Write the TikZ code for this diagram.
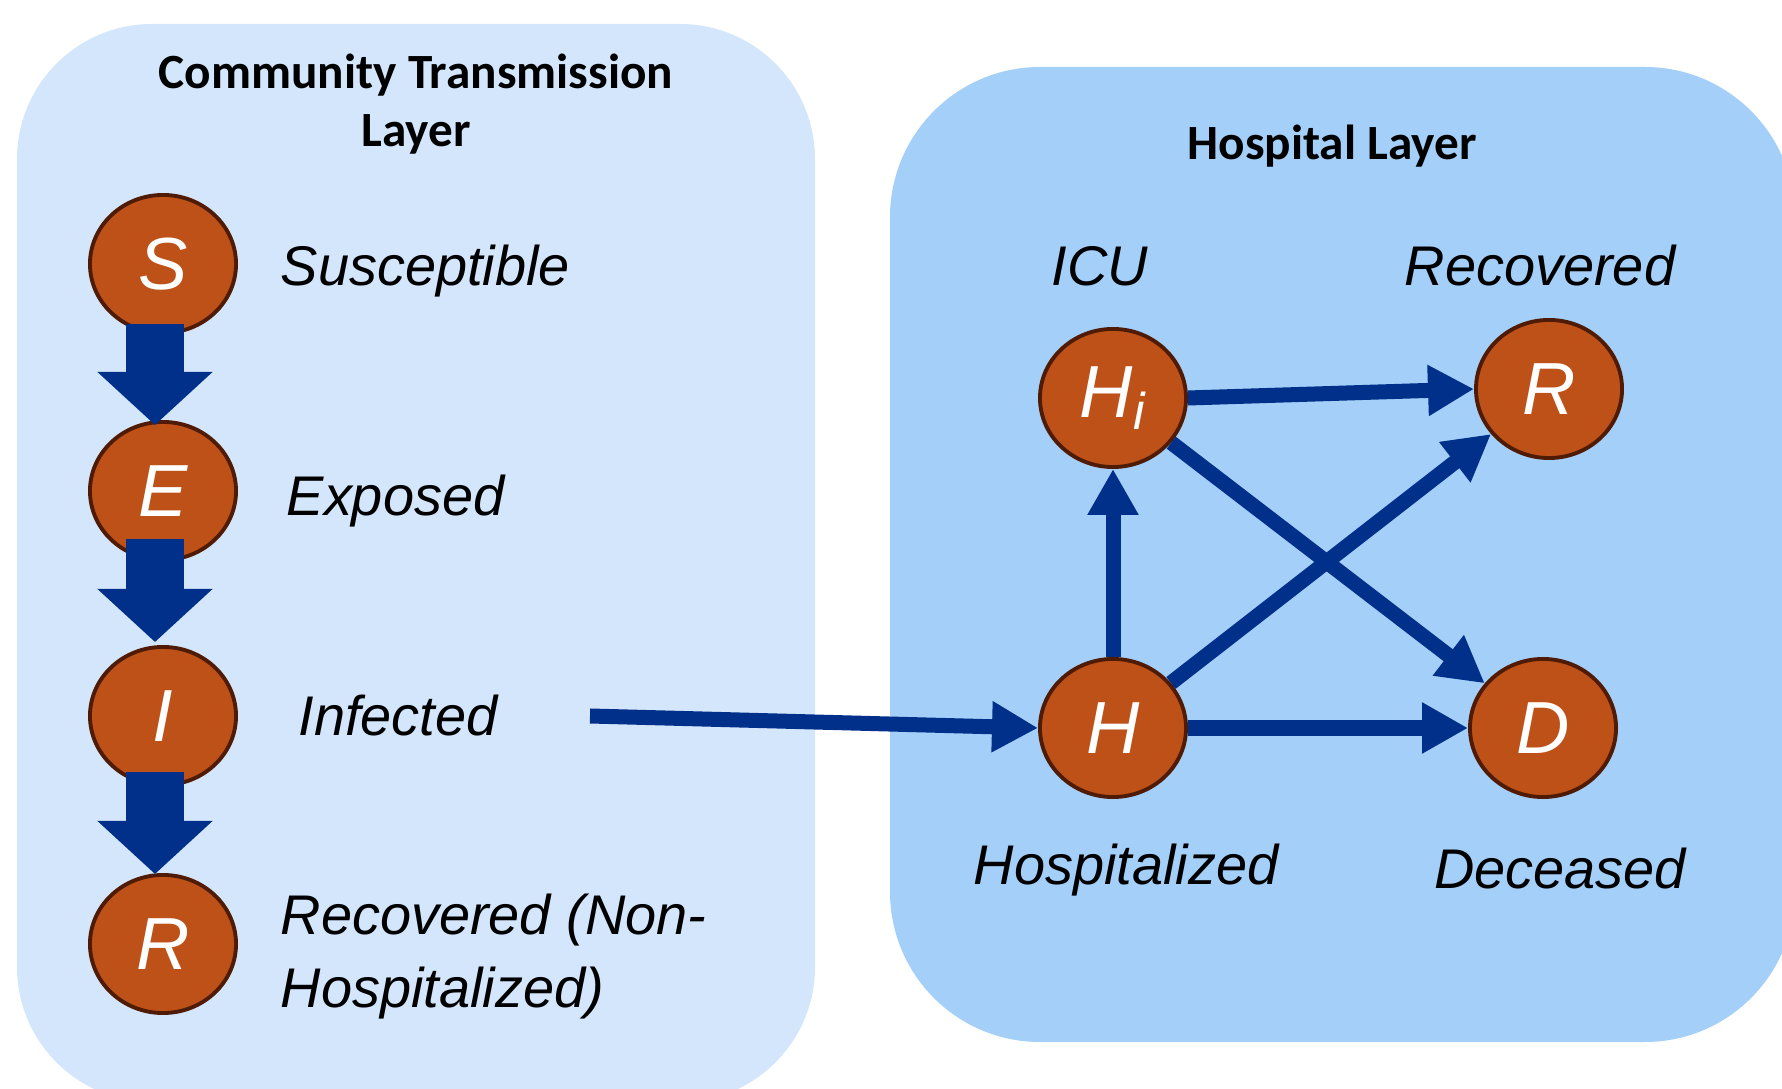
\documentclass[tikz,border=0pt]{standalone}
\usepackage{fontspec}
\setmainfont{Liberation Sans}
\newfontfamily\titlefont{Carlito}
\usetikzlibrary{shapes.geometric,arrows.meta}
\definecolor{commbg}{HTML}{D4E6FB}
\definecolor{hospbg}{HTML}{A3CFF8}
\definecolor{nodefill}{HTML}{BE5118}
\definecolor{nodeline}{HTML}{4F1B04}
\definecolor{arrowblue}{HTML}{00308A}
\begin{document}
\begin{tikzpicture}[x=0.01cm,y=-0.01cm,
  state/.style={ellipse, fill=nodefill, draw=nodeline, line width=1.1pt,
    minimum width=1.46cm, minimum height=1.38cm, inner sep=0pt, text=white,
    font=\fontsize{21}{25}\selectfont\itshape},
  lbl/.style={font=\fontsize{15.9}{19.3}\selectfont\itshape, inner sep=0pt},
  ttl/.style={font=\titlefont\bfseries\fontsize{14}{16.5}\selectfont, align=center, inner sep=0pt},
  bigarrow/.style={arrowblue, line width=0.57cm, -{Triangle[width=1.12cm,length=0.53cm]}},
  flow/.style={arrowblue, line width=0.15cm, -{Triangle[width=0.48cm,length=0.46cm]}}
]
\useasboundingbox (0,0) rectangle (1782,1089);
\begin{scope}
  \clip (0,0) rectangle (1782,1089);
  \fill[commbg, rounded corners=1.35cm] (17,24) rectangle (815,1102);
  \fill[hospbg, rounded corners=1.5cm] (890,67) rectangle (1795,1042);
\end{scope}

% titles
\node[ttl, anchor=base] (ttlc) at (416,147) {Community Transmission\\Layer};
\node[ttl, anchor=base] (ttlh) at (1332,160) {Hospital Layer};

% community nodes
\node[state] (S) at (163,264) {S};
\node[state] (E) at (163,491) {E};
\node[state] (I) at (163,716) {I};
\node[state] (R1) at (163,944) {R};

\node[lbl, anchor=base west] (lS) at (280,286) {Susceptible};
\node[lbl, anchor=base west] (lE) at (286,516) {Exposed};
\node[lbl, anchor=base west] (lI) at (298,736) {Infected};
\node[lbl, anchor=base west, align=left, font=\fontsize{15.9}{20.5}\selectfont\itshape] (lR1) at (280,1007) {Recovered (Non-\\Hospitalized)};

% hospital nodes
\node[state] (Hi) at (1113,398) {H\textsubscript{i}};
\node[state] (R2) at (1549,389) {R};
\node[state] (H) at (1113,728) {H};
\node[state] (D) at (1543,728) {D};

\node[lbl, anchor=base] (lHi) at (1100,286) {ICU};
\node[lbl, anchor=base] (lR2) at (1540,286) {Recovered};
\node[lbl, anchor=base] (lH) at (1126,885) {Hospitalized};
\node[lbl, anchor=base] (lD) at (1560,889) {Deceased};

% block arrows
\draw[bigarrow] ([shift={(-8,-11)}]S.south) -- ([shift={(-8,5)}]E.north);
\draw[bigarrow] ([shift={(-8,-23)}]E.south) -- ([shift={(-8,-3)}]I.north);
\draw[bigarrow] ([shift={(-8,-15)}]I.south) -- ([shift={(-8,1)}]R1.north);

% flows
\coordinate (istart) at (590,716);
\draw[flow] (istart) -- (H.west);
\draw[flow] (Hi.east) -- (R2.west);
\draw[flow] (H.north) -- (Hi.south);
\draw[flow] (H) -- (R2);
\draw[flow] (Hi) -- (D);
\draw[flow] (H.east) -- (D.west);
\end{tikzpicture}
\end{document}
